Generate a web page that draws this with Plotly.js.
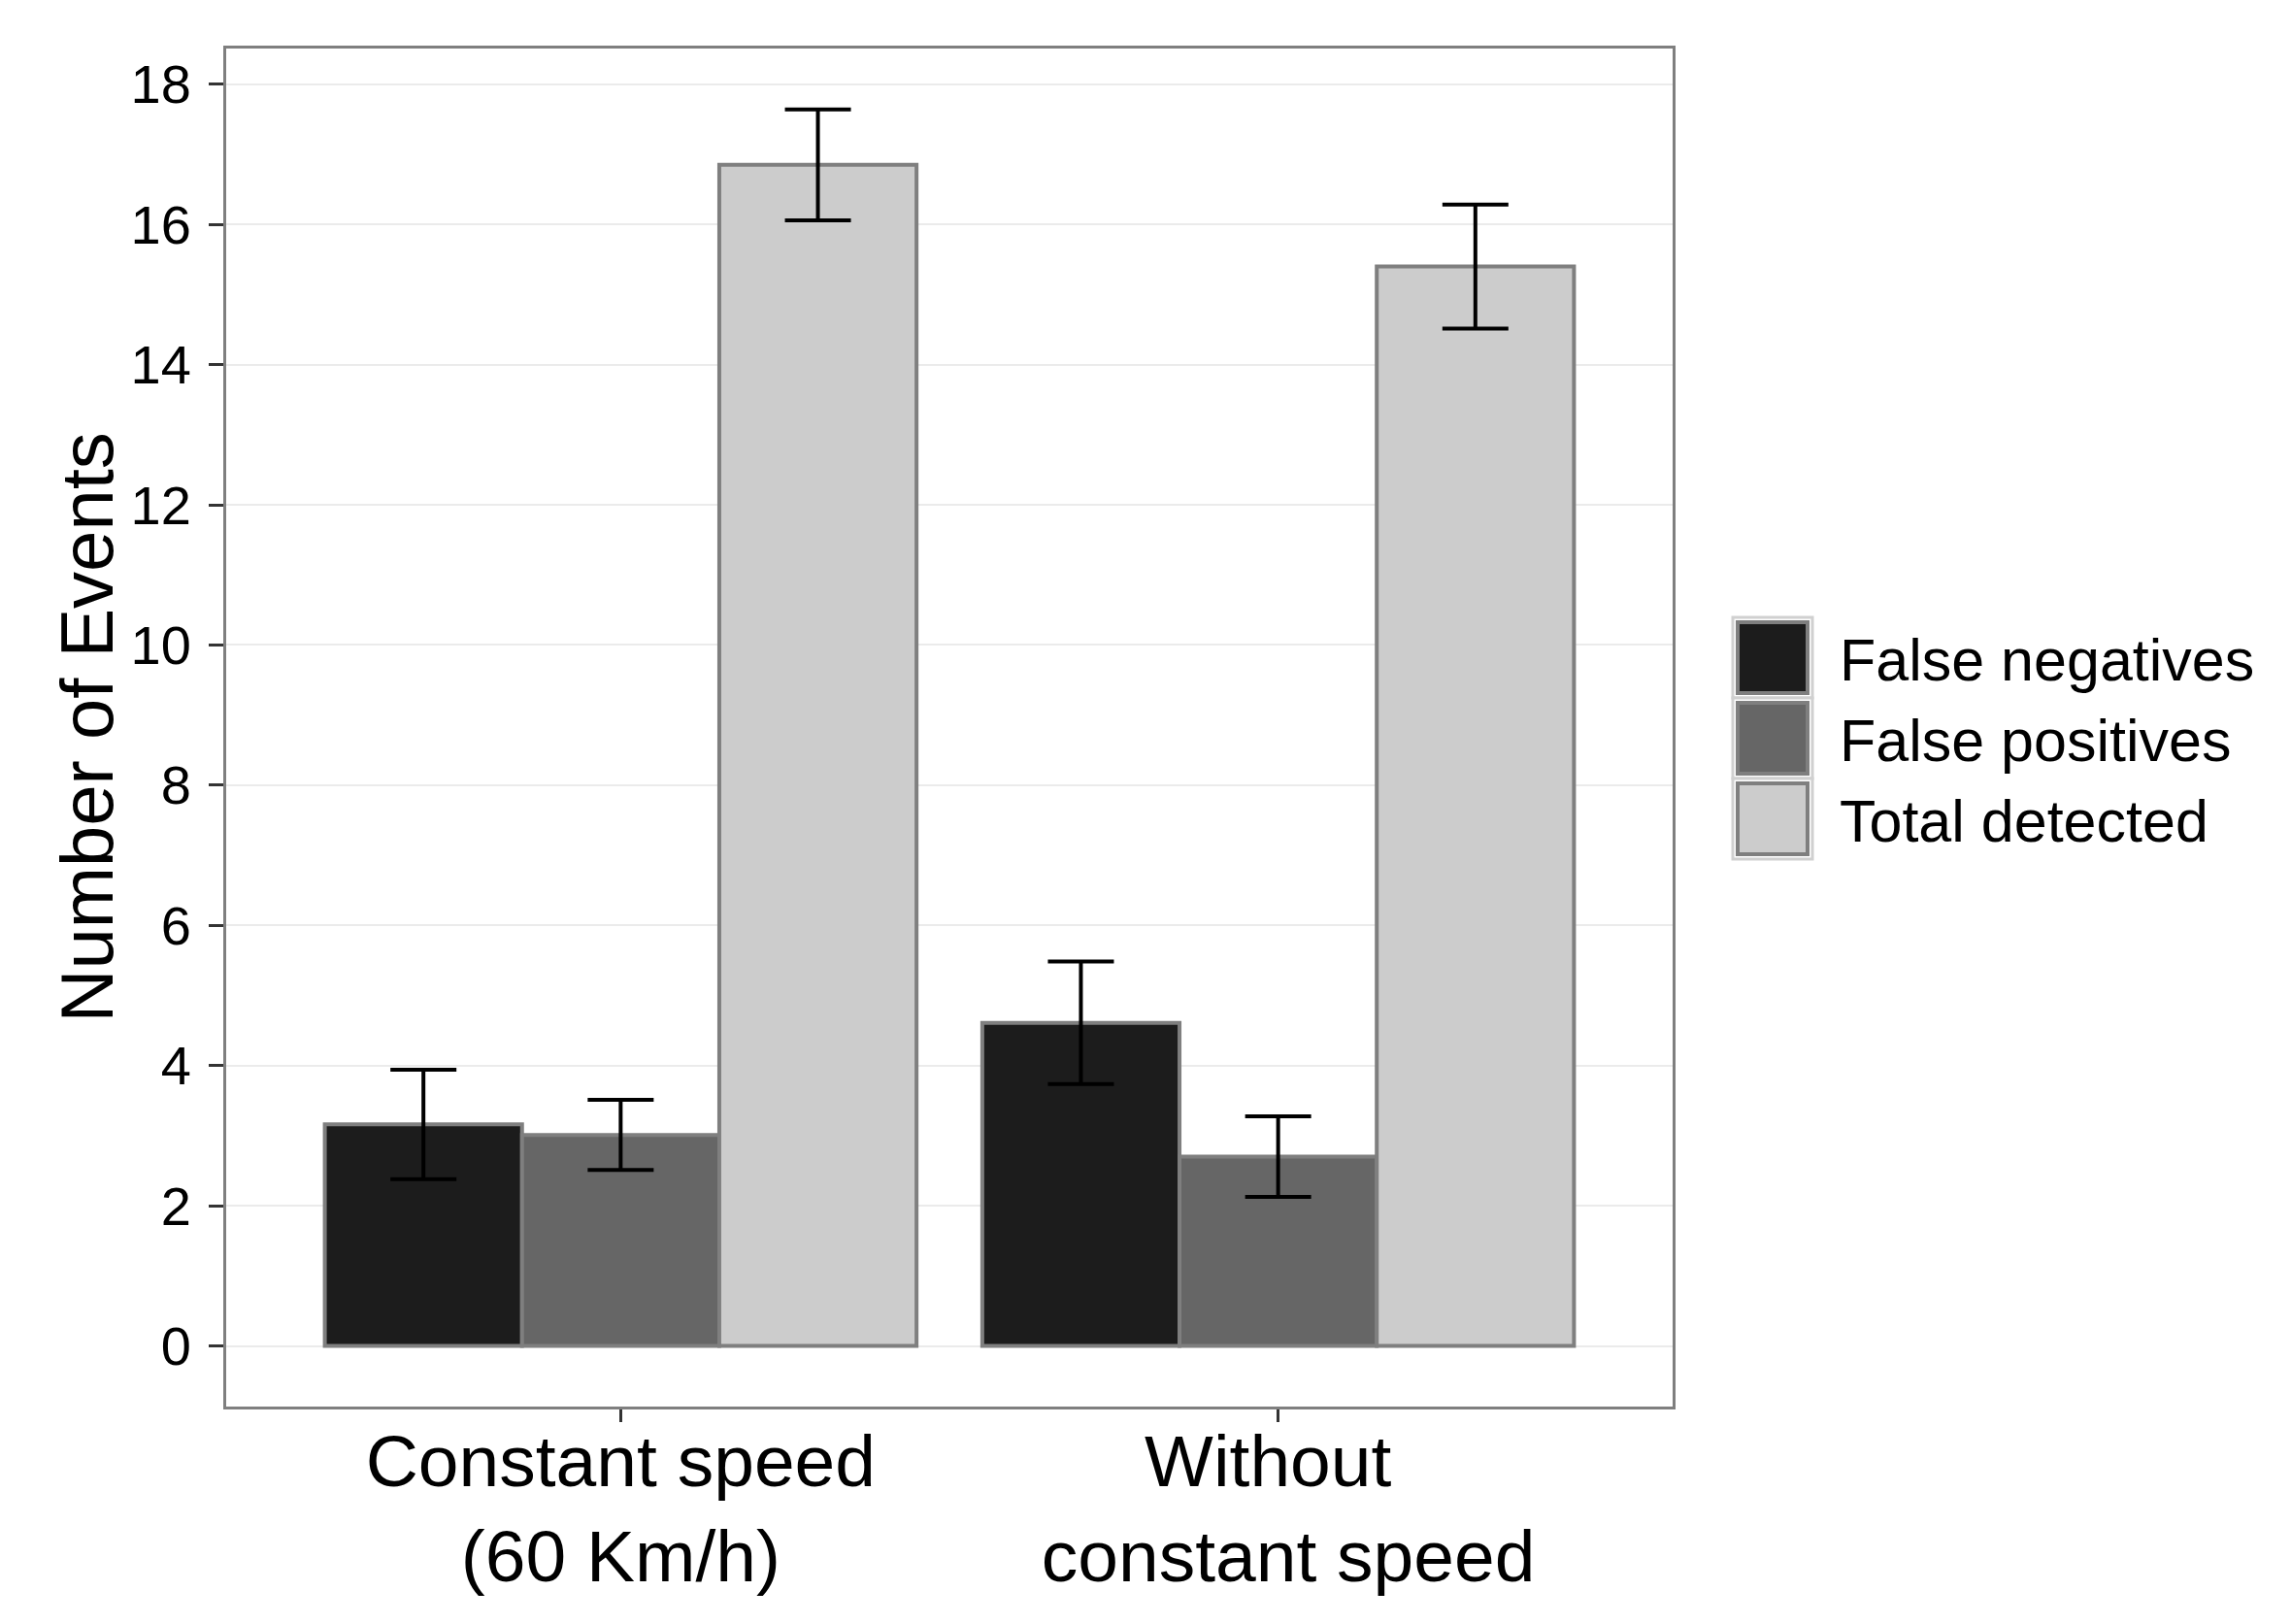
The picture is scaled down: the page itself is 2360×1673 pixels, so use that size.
<!DOCTYPE html>
<html>
<head>
<meta charset="utf-8">
<script src="https://cdn.plot.ly/plotly-3.0.1.min.js"></script>
<style>html,body{margin:0;padding:0;background:#fff;}</style>
</head>
<body>
<div id="chart" style="width:2360px;height:1673px;"></div>
<script>
// ---- data ----
const categories = ['Constant speed<br>(60 Km/h)', 'Without\u00a0<br>\u00a0constant speed'];
const seriesNames = ['False negatives', 'False positives', 'Total detected'];
const falseNegatives = [3.16, 4.61];
const falseNegativesErr = [0.78, 0.875];
const falsePositives = [3.01, 2.70];
const falsePositivesErr = [0.50, 0.575];
const totalDetected = [16.85, 15.40];
const totalDetectedErr = [0.79, 0.885];
const yTickVals = [0, 2, 4, 6, 8, 10, 12, 14, 16, 18];
const yTickText = ['0', '2', '4', '6', '8', '10', '12', '14', '16', '18'];
const yTitle = 'Number of Events';

// ---- styles ----
const fills = ['#1c1c1c', '#666666', '#cccccc'];
const borderCol = '#7f7f7f';
const FONT = 'Liberation Sans, Arial, Helvetica, sans-serif';
const W = 2360, H = 1673;
const M = {l: 233, r: 637, t: 50, b: 224};
const PW = W - M.l - M.r, PH = H - M.t - M.b;
const px = x => (x - M.l) / PW;
const py = y => 1 - (y - M.t) / PH;

const values = [falseNegatives, falsePositives, totalDetected];
const errs = [falseNegativesErr, falsePositivesErr, totalDetectedErr];

const traces = seriesNames.map((name, i) => ({
  type: 'bar',
  name: name,
  x: categories,
  y: values[i],
  marker: {color: fills[i], line: {color: borderCol, width: 4}},
  error_y: {type: 'data', array: errs[i], visible: true, color: '#000000', thickness: 4, width: 34},
  showlegend: false,
  hoverinfo: 'x+y+name'
}));

// manual legend (ggplot style keys)
const shapes = [];
const annotations = [];
const keyTop = 636, keyH = 83, keyX0 = 1785, keyX1 = 1867;
seriesNames.forEach((name, i) => {
  const t = keyTop + i * keyH, b = t + keyH;
  shapes.push({type: 'rect', xref: 'paper', yref: 'paper',
    x0: px(keyX0), x1: px(keyX1), y0: py(b), y1: py(t),
    line: {color: '#d0d0d0', width: 3}, fillcolor: '#ffffff', layer: 'above'});
  shapes.push({type: 'rect', xref: 'paper', yref: 'paper',
    x0: px(keyX0 + 5), x1: px(keyX1 - 5), y0: py(b - 5), y1: py(t + 5),
    line: {color: borderCol, width: 4}, fillcolor: fills[i], layer: 'above'});
  annotations.push({xref: 'paper', yref: 'paper', x: px(1893), y: py(t + keyH / 2 + 2),
    xanchor: 'left', yanchor: 'middle', showarrow: false, text: name,
    font: {family: FONT, size: 61, color: '#000000'}});
});

// y-axis title
annotations.push({xref: 'paper', yref: 'paper', x: px(89), y: 0.5,
  xanchor: 'center', yanchor: 'middle', textangle: -90, showarrow: false,
  text: yTitle, font: {family: FONT, size: 76, color: '#000000'}});

const layout = {
  width: W, height: H,
  margin: M,
  paper_bgcolor: '#ffffff',
  plot_bgcolor: '#ffffff',
  barmode: 'group',
  bargap: 0.1,
  bargroupgap: 0,
  font: {family: FONT, color: '#000000'},
  showlegend: false,
  xaxis: {
    type: 'category',
    range: [-0.6, 1.6],
    showgrid: false,
    zeroline: false,
    showline: true, mirror: true, linecolor: borderCol, linewidth: 3,
    ticks: 'outside', ticklen: 13, tickwidth: 3, tickcolor: '#333333',
    tickfont: {family: FONT, size: 75, color: '#000000'},
    ticklabelstandoff: -24,
    automargin: false
  },
  yaxis: {
    range: [-0.865, 18.51],
    tickvals: yTickVals,
    ticktext: yTickText,
    showgrid: true, gridcolor: '#ebebeb', gridwidth: 2,
    zeroline: false,
    showline: true, mirror: true, linecolor: borderCol, linewidth: 3,
    ticks: 'outside', ticklen: 15, tickwidth: 3, tickcolor: '#333333',
    tickfont: {family: FONT, size: 56, color: '#000000'},
    ticklabelstandoff: 7,
    automargin: false
  },
  shapes: shapes,
  annotations: annotations
};

Plotly.newPlot('chart', traces, layout, {displayModeBar: false, staticPlot: true});
</script>
</body>
</html>
